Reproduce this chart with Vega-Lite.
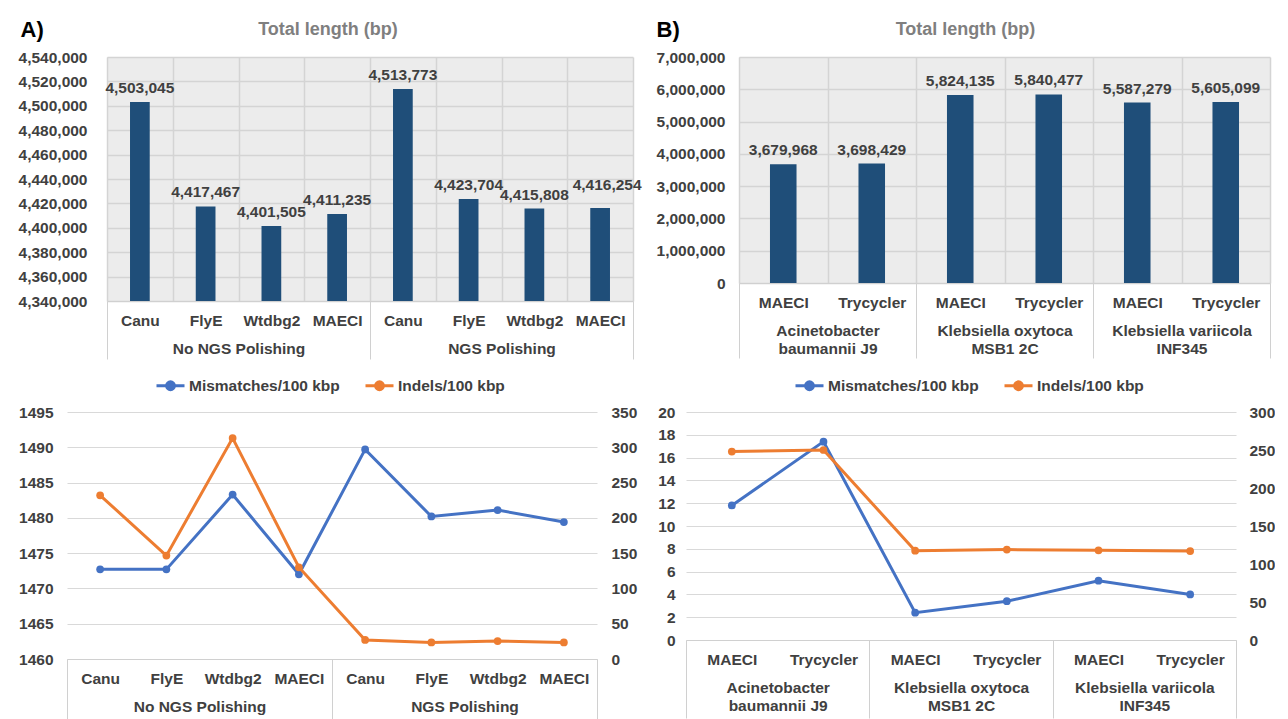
{
  "$schema": "https://vega.github.io/schema/vega-lite/v6.json",
  "padding": {"left": 18, "top": 18, "right": 0, "bottom": 0},
  "background": "white",
  "datasets": {
    "lenA": [
      {"group": "No NGS Polishing", "cat": "Canu", "value": 4503045},
      {"group": "No NGS Polishing", "cat": "FlyE", "value": 4417467},
      {"group": "No NGS Polishing", "cat": "Wtdbg2", "value": 4401505},
      {"group": "No NGS Polishing", "cat": "MAECI", "value": 4411235},
      {"group": "NGS Polishing", "cat": "Canu", "value": 4513773},
      {"group": "NGS Polishing", "cat": "FlyE", "value": 4423704},
      {"group": "NGS Polishing", "cat": "Wtdbg2", "value": 4415808},
      {"group": "NGS Polishing", "cat": "MAECI", "value": 4416254}
    ],
    "lenB": [
      {"group": "Acinetobacter baumannii J9", "cat": "MAECI", "value": 3679968},
      {"group": "Acinetobacter baumannii J9", "cat": "Trycycler", "value": 3698429},
      {"group": "Klebsiella oxytoca MSB1 2C", "cat": "MAECI", "value": 5824135},
      {"group": "Klebsiella oxytoca MSB1 2C", "cat": "Trycycler", "value": 5840477},
      {"group": "Klebsiella variicola INF345", "cat": "MAECI", "value": 5587279},
      {"group": "Klebsiella variicola INF345", "cat": "Trycycler", "value": 5605099}
    ],
    "errA": [
      {"group": "No NGS Polishing", "cat": "Canu", "series": "Mismatches/100 kbp", "value": 1472.7},
      {"group": "No NGS Polishing", "cat": "FlyE", "series": "Mismatches/100 kbp", "value": 1472.7},
      {"group": "No NGS Polishing", "cat": "Wtdbg2", "series": "Mismatches/100 kbp", "value": 1483.3},
      {"group": "No NGS Polishing", "cat": "MAECI", "series": "Mismatches/100 kbp", "value": 1472.0},
      {"group": "NGS Polishing", "cat": "Canu", "series": "Mismatches/100 kbp", "value": 1489.7},
      {"group": "NGS Polishing", "cat": "FlyE", "series": "Mismatches/100 kbp", "value": 1480.2},
      {"group": "NGS Polishing", "cat": "Wtdbg2", "series": "Mismatches/100 kbp", "value": 1481.1},
      {"group": "NGS Polishing", "cat": "MAECI", "series": "Mismatches/100 kbp", "value": 1479.4},
      {"group": "No NGS Polishing", "cat": "Canu", "series": "Indels/100 kbp", "value": 232},
      {"group": "No NGS Polishing", "cat": "FlyE", "series": "Indels/100 kbp", "value": 146.5},
      {"group": "No NGS Polishing", "cat": "Wtdbg2", "series": "Indels/100 kbp", "value": 313},
      {"group": "No NGS Polishing", "cat": "MAECI", "series": "Indels/100 kbp", "value": 130},
      {"group": "NGS Polishing", "cat": "Canu", "series": "Indels/100 kbp", "value": 27},
      {"group": "NGS Polishing", "cat": "FlyE", "series": "Indels/100 kbp", "value": 23.5},
      {"group": "NGS Polishing", "cat": "Wtdbg2", "series": "Indels/100 kbp", "value": 25.5},
      {"group": "NGS Polishing", "cat": "MAECI", "series": "Indels/100 kbp", "value": 23.5}
    ],
    "errB": [
      {"group": "Acinetobacter baumannii J9", "cat": "MAECI", "series": "Mismatches/100 kbp", "value": 11.8},
      {"group": "Acinetobacter baumannii J9", "cat": "Trycycler", "series": "Mismatches/100 kbp", "value": 17.4},
      {"group": "Klebsiella oxytoca MSB1 2C", "cat": "MAECI", "series": "Mismatches/100 kbp", "value": 2.4},
      {"group": "Klebsiella oxytoca MSB1 2C", "cat": "Trycycler", "series": "Mismatches/100 kbp", "value": 3.4},
      {"group": "Klebsiella variicola INF345", "cat": "MAECI", "series": "Mismatches/100 kbp", "value": 5.2},
      {"group": "Klebsiella variicola INF345", "cat": "Trycycler", "series": "Mismatches/100 kbp", "value": 4.0},
      {"group": "Acinetobacter baumannii J9", "cat": "MAECI", "series": "Indels/100 kbp", "value": 248},
      {"group": "Acinetobacter baumannii J9", "cat": "Trycycler", "series": "Indels/100 kbp", "value": 250},
      {"group": "Klebsiella oxytoca MSB1 2C", "cat": "MAECI", "series": "Indels/100 kbp", "value": 117.5},
      {"group": "Klebsiella oxytoca MSB1 2C", "cat": "Trycycler", "series": "Indels/100 kbp", "value": 119},
      {"group": "Klebsiella variicola INF345", "cat": "MAECI", "series": "Indels/100 kbp", "value": 118},
      {"group": "Klebsiella variicola INF345", "cat": "Trycycler", "series": "Indels/100 kbp", "value": 117}
    ]
  },
  "config": {
    "font": "Liberation Sans",
    "view": {"stroke": null},
    "axis": {
      "labelFont": "Liberation Sans",
      "labelFontSize": 15.5,
      "labelFontWeight": "bold",
      "labelColor": "#404040",
      "gridColor": "#d9d9d9",
      "domainColor": "#d0d0d0",
      "tickColor": "#d0d0d0",
      "labelOverlap": false,
      "labelFlush": false,
      "labelBound": false
    }
  },
  "spacing": 10,
  "vconcat": [
    {
      "spacing": 14,
      "hconcat": [
        {
          "spacing": -50,
          "hconcat": [
            {"width": 1, "height": 1, "data": {"values": []}, "mark": "point", "encoding": {}},
            {
              "width": 526,
              "height": 244,
              "data": {"name": "lenA"},
              "transform": [{"calculate": "datum.group + '|' + datum.cat", "as": "key"}],
              "view": {"fill": "#ececec", "stroke": null},
              "layer": [
                {
                  "encoding": {
                    "x": {"field": "key", "type": "nominal", "sort": null,
                      "scale": {"type": "band", "paddingInner": 0, "paddingOuter": 0},
                      "axis": {"title": null, "labelExpr": "split(datum.label, '|')[1]", "labelAngle": 0, "ticks": false, "tickSize": 0, "domain": false, "grid": true, "tickBand": "extent", "labelPadding": 12.5, "labelBaseline": "top", "gridColor": "#d4d4d4", "gridWidth": 1.5}},
                    "y": {"field": "value", "type": "quantitative",
                      "scale": {"domain": [4340000, 4540000], "nice": false, "zero": false},
                      "axis": {"title": "A)", "titleAngle": 0, "titleX": -87, "titleY": -28, "titleAlign": "left", "titleBaseline": "middle", "titleFontSize": 22, "titleFontWeight": "bold", "titleColor": "#000000", "titleFont": "Liberation Sans",
                        "values": [4340000, 4360000, 4380000, 4400000, 4420000, 4440000, 4460000, 4480000, 4500000, 4520000, 4540000],
                        "labelExpr": "format(datum.value, ',')", "labelPadding": 20, "ticks": false, "domain": false, "grid": true, "gridColor": "#d4d4d4", "gridWidth": 1.5}}
                  },
                  "layer": [
                    {"mark": {"type": "bar", "color": "#1f4e79", "width": {"band": 0.3}, "clip": true}},
                    {"transform": [{"filter": "!(datum.group == 'NGS Polishing' && datum.cat == 'MAECI')"}],
                     "mark": {"type": "text", "baseline": "bottom", "dy": -6, "font": "Liberation Sans", "fontSize": 15.5, "fontWeight": "bold", "color": "#404040"},
                     "encoding": {"text": {"field": "value", "type": "quantitative", "format": ","}}},
                    {"transform": [{"filter": "datum.group == 'NGS Polishing' && datum.cat == 'MAECI'"}],
                     "mark": {"type": "text", "baseline": "bottom", "dy": -15, "dx": 7, "font": "Liberation Sans", "fontSize": 15.5, "fontWeight": "bold", "color": "#404040"},
                     "encoding": {"text": {"field": "value", "type": "quantitative", "format": ","}}}
                  ]
                },
                {
                  "mark": {"type": "rect", "opacity": 0},
                  "encoding": {
                    "x": {"field": "group", "type": "nominal", "sort": null,
                      "scale": {"type": "band", "paddingInner": 0, "paddingOuter": 0},
                      "axis": {"title": "Total length (bp)", "titleX": 220.5, "titleY": -272, "titleAlign": "center", "titleBaseline": "middle", "titleAngle": 0, "titleFontSize": 18, "titleFont": "Liberation Sans", "titleFontWeight": "bold", "titleColor": "#7f7f7f",
                        "orient": "bottom", "labelAngle": 0, "ticks": true, "tickSize": 58, "tickBand": "extent", "tickColor": "#d0d0d0", "domain": true, "domainColor": "#d0d0d0", "grid": false, "labelPadding": -17.5, "labelBaseline": "top"}}
                  }
                }
              ],
              "resolve": {"scale": {"x": "independent"}}
            }
          ]
        },
        {
          "width": 531,
          "height": 226,
          "data": {"name": "lenB"},
          "transform": [{"calculate": "datum.group + '|' + datum.cat", "as": "key"}],
          "view": {"fill": "#ececec", "stroke": null},
          "layer": [
            {
              "encoding": {
                "x": {"field": "key", "type": "nominal", "sort": null,
                  "scale": {"type": "band", "paddingInner": 0, "paddingOuter": 0},
                  "axis": {"title": null, "labelExpr": "split(datum.label, '|')[1]", "labelAngle": 0, "ticks": false, "tickSize": 0, "domain": false, "grid": true, "tickBand": "extent", "labelPadding": 12.5, "labelBaseline": "top", "gridColor": "#d4d4d4", "gridWidth": 1.5}},
                "y": {"field": "value", "type": "quantitative",
                  "scale": {"domain": [0, 7000000], "nice": false, "zero": true},
                  "axis": {"title": "B)", "titleAngle": 0, "titleX": -83, "titleY": -28, "titleAlign": "left", "titleBaseline": "middle", "titleFontSize": 22, "titleFontWeight": "bold", "titleColor": "#000000", "titleFont": "Liberation Sans",
                    "values": [0, 1000000, 2000000, 3000000, 4000000, 5000000, 6000000, 7000000],
                    "labelExpr": "format(datum.value, ',')", "labelPadding": 14, "ticks": false, "domain": false, "grid": true, "gridColor": "#d4d4d4", "gridWidth": 1.5}}
              },
              "layer": [
                {"mark": {"type": "bar", "color": "#1f4e79", "width": {"band": 0.3}, "clip": true}},
                {"mark": {"type": "text", "baseline": "bottom", "dy": -6, "font": "Liberation Sans", "fontSize": 15.5, "fontWeight": "bold", "color": "#404040"},
                 "encoding": {"text": {"field": "value", "type": "quantitative", "format": ","}}}
              ]
            },
            {
              "mark": {"type": "rect", "opacity": 0},
              "encoding": {
                "x": {"field": "group", "type": "nominal", "sort": null,
                  "scale": {"type": "band", "paddingInner": 0, "paddingOuter": 0},
                  "axis": {"title": "Total length (bp)", "titleX": 226, "titleY": -254, "titleAlign": "center", "titleBaseline": "middle", "titleAngle": 0, "titleFontSize": 18, "titleFont": "Liberation Sans", "titleFontWeight": "bold", "titleColor": "#7f7f7f",
                    "orient": "bottom", "labelAngle": 0, "ticks": true, "tickSize": 75, "tickBand": "extent", "tickColor": "#d0d0d0", "domain": true, "domainColor": "#d0d0d0", "grid": false, "labelPadding": -34.5, "labelBaseline": "top", "labelLineHeight": 18,
                    "labelExpr": "datum.label == 'Acinetobacter baumannii J9' ? ['Acinetobacter', 'baumannii J9'] : datum.label == 'Klebsiella oxytoca MSB1 2C' ? ['Klebsiella oxytoca', 'MSB1 2C'] : datum.label == 'Klebsiella variicola INF345' ? ['Klebsiella variicola', 'INF345'] : ''"}}
              }
            }
          ],
          "resolve": {"scale": {"x": "independent"}}
        }
      ]
    },
    {
      "spacing": 20,
      "resolve": {"scale": {"color": "independent"}, "legend": {"color": "independent"}},
      "hconcat": [
        {
          "width": 530,
          "height": 247,
          "data": {"name": "errA"},
          "transform": [{"calculate": "datum.group + '|' + datum.cat", "as": "key"}],
          "layer": [
            {
              "encoding": {
                "x": {"field": "key", "type": "nominal", "sort": null,
                  "scale": {"type": "point", "padding": 0.5},
                  "axis": {"title": null, "labelExpr": "split(datum.label, '|')[1]", "labelAngle": 0, "ticks": false, "tickSize": 0, "domain": false, "grid": false, "labelPadding": 12.5, "labelBaseline": "top"}}
              },
              "layer": [
                {
                  "transform": [{"filter": "datum.series == 'Mismatches/100 kbp'"}],
                  "mark": {"type": "line", "strokeWidth": 3, "point": {"filled": true, "size": 60}},
                  "encoding": {
                    "y": {"field": "value", "type": "quantitative",
                      "scale": {"domain": [1460, 1495], "nice": false, "zero": false},
                      "axis": {"title": null, "orient": "left", "values": [1460, 1465, 1470, 1475, 1480, 1485, 1490, 1495], "labelExpr": "format(datum.value, 'd')", "labelPadding": 14, "ticks": false, "domain": false, "grid": true}},
                    "color": {"field": "series", "type": "nominal",
                      "scale": {"domain": ["Mismatches/100 kbp", "Indels/100 kbp"], "range": ["#4472c4", "#ed7d31"]},
                      "legend": {"title": null, "orient": "none", "legendX": 88, "legendY": -42, "direction": "horizontal",
                        "symbolType": "M-1,0H1M-0.28,0A0.28,0.28,0,1,1,0.28,0A0.28,0.28,0,1,1,-0.28,0", "symbolSize": 784, "symbolStrokeWidth": 3,
                        "labelFontSize": 15.5, "labelFont": "Liberation Sans", "labelFontWeight": "bold", "labelColor": "#404040", "labelOffset": 3, "columnPadding": 19,
                        "encode": {"symbols": {"update": {"fill": {"signal": "datum.value == 'Mismatches/100 kbp' ? '#4472c4' : '#ed7d31'"}, "stroke": {"signal": "datum.value == 'Mismatches/100 kbp' ? '#4472c4' : '#ed7d31'"}}}}}}
                  }
                },
                {
                  "transform": [{"filter": "datum.series == 'Indels/100 kbp'"}],
                  "mark": {"type": "line", "strokeWidth": 3, "point": {"filled": true, "size": 60}},
                  "encoding": {
                    "y": {"field": "value", "type": "quantitative",
                      "scale": {"domain": [0, 350], "nice": false, "zero": true},
                      "axis": {"title": null, "orient": "right", "values": [0, 50, 100, 150, 200, 250, 300, 350], "labelExpr": "format(datum.value, 'd')", "labelPadding": 14, "ticks": false, "domain": false, "grid": false}},
                    "color": {"field": "series", "type": "nominal",
                      "scale": {"domain": ["Mismatches/100 kbp", "Indels/100 kbp"], "range": ["#4472c4", "#ed7d31"]},
                      "legend": {"title": null, "orient": "none", "legendX": 88, "legendY": -42, "direction": "horizontal",
                        "symbolType": "M-1,0H1M-0.28,0A0.28,0.28,0,1,1,0.28,0A0.28,0.28,0,1,1,-0.28,0", "symbolSize": 784, "symbolStrokeWidth": 3,
                        "labelFontSize": 15.5, "labelFont": "Liberation Sans", "labelFontWeight": "bold", "labelColor": "#404040", "labelOffset": 3, "columnPadding": 19,
                        "encode": {"symbols": {"update": {"fill": {"signal": "datum.value == 'Mismatches/100 kbp' ? '#4472c4' : '#ed7d31'"}, "stroke": {"signal": "datum.value == 'Mismatches/100 kbp' ? '#4472c4' : '#ed7d31'"}}}}}}
                  }
                }
              ],
              "resolve": {"scale": {"y": "independent"}}
            },
            {
              "mark": {"type": "rect", "opacity": 0},
              "encoding": {
                "x": {"field": "group", "type": "nominal", "sort": null,
                  "scale": {"type": "band", "paddingInner": 0, "paddingOuter": 0},
                  "axis": {"title": null, "orient": "bottom", "labelAngle": 0, "ticks": true, "tickSize": 60, "tickBand": "extent", "tickColor": "#d0d0d0", "domain": true, "domainColor": "#d0d0d0", "grid": false, "labelPadding": -19.5, "labelBaseline": "top"}}
              }
            }
          ],
          "resolve": {"scale": {"x": "independent"}}
        },
        {
          "width": 550,
          "height": 228,
          "data": {"name": "errB"},
          "transform": [{"calculate": "datum.group + '|' + datum.cat", "as": "key"}],
          "layer": [
            {
              "encoding": {
                "x": {"field": "key", "type": "nominal", "sort": null,
                  "scale": {"type": "point", "padding": 0.5},
                  "axis": {"title": null, "labelExpr": "split(datum.label, '|')[1]", "labelAngle": 0, "ticks": false, "tickSize": 0, "domain": false, "grid": false, "labelPadding": 12.5, "labelBaseline": "top"}}
              },
              "layer": [
                {
                  "transform": [{"filter": "datum.series == 'Mismatches/100 kbp'"}],
                  "mark": {"type": "line", "strokeWidth": 3, "point": {"filled": true, "size": 60}},
                  "encoding": {
                    "y": {"field": "value", "type": "quantitative",
                      "scale": {"domain": [0, 20], "nice": false, "zero": true},
                      "axis": {"title": null, "orient": "left", "values": [0, 2, 4, 6, 8, 10, 12, 14, 16, 18, 20], "labelExpr": "format(datum.value, 'd')", "labelPadding": 11, "ticks": false, "domain": false, "grid": true}},
                    "color": {"field": "series", "type": "nominal",
                      "scale": {"domain": ["Mismatches/100 kbp", "Indels/100 kbp"], "range": ["#4472c4", "#ed7d31"]},
                      "legend": {"title": null, "orient": "none", "legendX": 108, "legendY": -42, "direction": "horizontal",
                        "symbolType": "M-1,0H1M-0.28,0A0.28,0.28,0,1,1,0.28,0A0.28,0.28,0,1,1,-0.28,0", "symbolSize": 784, "symbolStrokeWidth": 3,
                        "labelFontSize": 15.5, "labelFont": "Liberation Sans", "labelFontWeight": "bold", "labelColor": "#404040", "labelOffset": 3, "columnPadding": 19,
                        "encode": {"symbols": {"update": {"fill": {"signal": "datum.value == 'Mismatches/100 kbp' ? '#4472c4' : '#ed7d31'"}, "stroke": {"signal": "datum.value == 'Mismatches/100 kbp' ? '#4472c4' : '#ed7d31'"}}}}}}
                  }
                },
                {
                  "transform": [{"filter": "datum.series == 'Indels/100 kbp'"}],
                  "mark": {"type": "line", "strokeWidth": 3, "point": {"filled": true, "size": 60}},
                  "encoding": {
                    "y": {"field": "value", "type": "quantitative",
                      "scale": {"domain": [0, 300], "nice": false, "zero": true},
                      "axis": {"title": null, "orient": "right", "values": [0, 50, 100, 150, 200, 250, 300], "labelExpr": "format(datum.value, 'd')", "labelPadding": 13, "ticks": false, "domain": false, "grid": false}},
                    "color": {"field": "series", "type": "nominal",
                      "scale": {"domain": ["Mismatches/100 kbp", "Indels/100 kbp"], "range": ["#4472c4", "#ed7d31"]},
                      "legend": {"title": null, "orient": "none", "legendX": 108, "legendY": -42, "direction": "horizontal",
                        "symbolType": "M-1,0H1M-0.28,0A0.28,0.28,0,1,1,0.28,0A0.28,0.28,0,1,1,-0.28,0", "symbolSize": 784, "symbolStrokeWidth": 3,
                        "labelFontSize": 15.5, "labelFont": "Liberation Sans", "labelFontWeight": "bold", "labelColor": "#404040", "labelOffset": 3, "columnPadding": 19,
                        "encode": {"symbols": {"update": {"fill": {"signal": "datum.value == 'Mismatches/100 kbp' ? '#4472c4' : '#ed7d31'"}, "stroke": {"signal": "datum.value == 'Mismatches/100 kbp' ? '#4472c4' : '#ed7d31'"}}}}}}
                  }
                }
              ],
              "resolve": {"scale": {"y": "independent"}}
            },
            {
              "mark": {"type": "rect", "opacity": 0},
              "encoding": {
                "x": {"field": "group", "type": "nominal", "sort": null,
                  "scale": {"type": "band", "paddingInner": 0, "paddingOuter": 0},
                  "axis": {"title": null, "orient": "bottom", "labelAngle": 0, "ticks": true, "tickSize": 78, "tickBand": "extent", "tickColor": "#d0d0d0", "domain": true, "domainColor": "#d0d0d0", "grid": false, "labelPadding": -37.5, "labelBaseline": "top", "labelLineHeight": 18,
                    "labelExpr": "datum.label == 'Acinetobacter baumannii J9' ? ['Acinetobacter', 'baumannii J9'] : datum.label == 'Klebsiella oxytoca MSB1 2C' ? ['Klebsiella oxytoca', 'MSB1 2C'] : datum.label == 'Klebsiella variicola INF345' ? ['Klebsiella variicola', 'INF345'] : ''"}}
              }
            }
          ],
          "resolve": {"scale": {"x": "independent"}}
        }
      ]
    }
  ]
}
